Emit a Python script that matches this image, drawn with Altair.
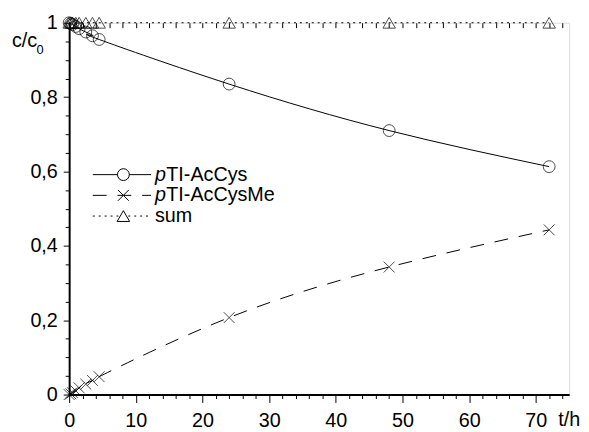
import altair as alt
import pandas as pd

# ---- data ----
t_h = [0, 0.25, 0.5, 1, 1.5, 2.5, 3.5, 4.5, 24, 48, 72]
acCys = [1.0, 0.998, 0.995, 0.99, 0.984, 0.975, 0.965, 0.955, 0.835, 0.71, 0.613]
acCysMe = [0.0, 0.002, 0.005, 0.01, 0.018, 0.028, 0.038, 0.048, 0.207, 0.343, 0.443]
sum_vals = [1.0, 1.0, 1.0, 1.0, 1.0, 1.0, 1.0, 1.0, 1.0, 1.0, 1.0]

x_ticks = [2 * i for i in range(38)]          # 0 .. 74
y_ticks = [round(0.05 * i, 2) for i in range(21)]  # 0 .. 1

legend_labels = ["TI-AcCys", "TI-AcCysMe", "sum"]
legend_prefix = ["p", "p", ""]

W, H = 507, 377
FONT = "Liberation Sans"
FS = 20
LFS = 20

df = pd.DataFrame({"t": t_h, "AcCys": acCys, "AcCysMe": acCysMe, "sum": sum_vals})
dummy = pd.DataFrame({"d": [0]})

xscale = alt.Scale(domain=[0, 75], nice=False, zero=False)
yscale = alt.Scale(domain=[0, 1], nice=False)

CROSS = "M-1,-1L1,1M-1,1L1,-1"

x_bottom = alt.Axis(
    values=x_ticks,
    labelExpr="datum.value % 10 === 0 ? datum.label : ''",
    tickSize={"condition": {"test": "datum.value % 10 === 0", "value": 8}, "value": 4},
    labelFontSize=FS, labelFont=FONT, labelColor="black", labelPadding=8,
    domainColor="black", domainWidth=2, tickColor="black", tickWidth=1,
    grid=False, title=None, labelFlush=False, labelOverlap=False,
)
y_left = alt.Axis(
    values=y_ticks,
    labelExpr="abs(datum.value*5 - round(datum.value*5)) < 0.001 ? replace(format(datum.value, '~g'), '.', ',') : ''",
    tickSize={"condition": {"test": "abs(datum.value*5 - round(datum.value*5)) < 0.001", "value": 6}, "value": 4},
    labelFontSize=FS, labelFont=FONT, labelColor="black", labelPadding=6,
    domainColor="black", domainWidth=2, tickColor="black", tickWidth=1,
    grid=False, title=None, labelOverlap=False, labelFlush=False,
)
x_top = alt.Axis(
    values=x_ticks, orient="top", labels=False, domain=False, tickSize=5,
    offset=-5, tickColor="black", tickWidth=1, grid=False, title=None,
)

base = alt.Chart(df)

line_cys = base.mark_line(color="black", strokeWidth=1, interpolate="natural").encode(
    x=alt.X("t:Q", scale=xscale, axis=x_bottom),
    y=alt.Y("AcCys:Q", scale=yscale, axis=y_left),
)
pts_cys = base.mark_point(shape="circle", size=144, color="black", strokeWidth=1, filled=False).encode(
    x=alt.X("t:Q", scale=xscale, axis=None),
    y=alt.Y("AcCys:Q", scale=yscale, axis=None),
)
line_me = base.mark_line(color="black", strokeWidth=1, strokeDash=[14, 11], interpolate="natural").encode(
    x=alt.X("t:Q", scale=xscale, axis=None),
    y=alt.Y("AcCysMe:Q", scale=yscale, axis=None),
)
pts_me = base.mark_point(shape=CROSS, size=121, color="black", strokeWidth=1, filled=False).encode(
    x=alt.X("t:Q", scale=xscale, axis=None),
    y=alt.Y("AcCysMe:Q", scale=yscale, axis=None),
)
line_sum = base.mark_line(color="black", strokeWidth=1, strokeDash=[2, 4]).encode(
    x=alt.X("t:Q", scale=xscale, axis=None),
    y=alt.Y("sum:Q", scale=yscale, axis=None),
)
pts_sum = base.mark_point(shape="triangle-up", size=160, color="black", strokeWidth=1, filled=False).encode(
    x=alt.X("t:Q", scale=xscale, axis=None),
    y=alt.Y("sum:Q", scale=yscale, axis=None),
)
top_axis = base.mark_point(opacity=0).encode(
    x=alt.X("t:Q", scale=xscale, axis=x_top),
    y=alt.Y("sum:Q", scale=yscale, axis=None),
)

# ---- axis titles ----
dc = alt.Chart(dummy)
ytitle = dc.mark_text(text="c/c", font=FONT, fontSize=FS, align="left", baseline="alphabetic", color="black").encode(
    x=alt.value(-58), y=alt.value(25))
ytitle_sub = dc.mark_text(text="0", font=FONT, fontSize=13, align="left", baseline="alphabetic", color="black").encode(
    x=alt.value(-33), y=alt.value(32))
xtitle = dc.mark_text(text="t/h", font=FONT, fontSize=FS, align="center", baseline="top", color="black").encode(
    x=alt.value(W), y=alt.value(H + 16))

# ---- legend ----
leg_layers = []
row_y = [154, 175, 196]
dashes = [None, [14, 11], [2, 4]]
shapes = ["circle", CROSS, "triangle-up"]
sizes = [144, 121, 160]
for i in range(3):
    rule_kw = dict(color="black", strokeWidth=1)
    if dashes[i] is not None:
        rule_kw["strokeDash"] = dashes[i]
    leg_layers.append(dc.mark_rule(**rule_kw).encode(
        x=alt.value(24), x2=alt.value(83), y=alt.value(row_y[i])))
    leg_layers.append(dc.mark_point(shape=shapes[i], size=sizes[i], stroke="black", strokeWidth=1,
                                    filled=True, fill="white", opacity=1).encode(
        x=alt.value(55), y=alt.value(row_y[i])))
    tx = 87
    if legend_prefix[i]:
        leg_layers.append(dc.mark_text(text=legend_prefix[i], font=FONT, fontSize=LFS, fontStyle="italic",
                                       align="left", baseline="middle", color="black").encode(
            x=alt.value(tx), y=alt.value(row_y[i])))
        tx += 11.5
    leg_layers.append(dc.mark_text(text=legend_labels[i], font=FONT, fontSize=LFS,
                                   align="left", baseline="middle", color="black").encode(
        x=alt.value(tx), y=alt.value(row_y[i])))

chart = alt.layer(
    line_cys, line_me, line_sum, pts_cys, pts_me, pts_sum, top_axis,
    ytitle, ytitle_sub, xtitle, *leg_layers,
).resolve_axis(x="independent", y="independent").properties(
    width=W, height=H,
    autosize=alt.AutoSizeParams(type="none"),
    padding={"left": 62, "top": 12, "right": 12, "bottom": 35},
).configure_view(
    stroke="black", strokeWidth=2
).configure(background="white")

chart.save("out.html", embed_options={"renderer": "svg", "actions": False})
